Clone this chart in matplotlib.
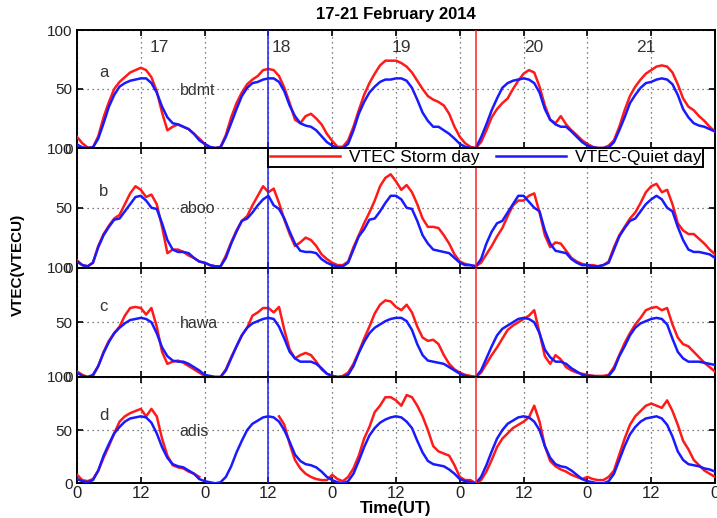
import numpy as np
import matplotlib
matplotlib.use("Agg")
import matplotlib.pyplot as plt

plt.rcParams['font.family'] = ['Liberation Sans', 'DejaVu Sans']

nan = np.nan
hours = np.arange(0, 121)

stations = ['bdmt', 'aboo', 'hawa', 'adis']
panel_letters = ['a', 'b', 'c', 'd']
day_labels = ['17', '18', '19', '20', '21']
x_ticks = [0, 12, 24, 36, 48, 60, 72, 84, 96, 108, 120]
x_tick_labels = ['0', '12', '0', '12', '0', '12', '0', '12', '0', '12', '0']
y_ticks = [0, 50, 100]
title = '17-21 February 2014'
storm_label = 'VTEC Storm day'
quiet_label = 'VTEC-Quiet day'
storm_onset_hour = 36      # blue vertical marker
main_phase_hour = 75       # red vertical marker

# ---------- bdmt (panel a) ----------
bdmt_quiet = [3, 0.5, 0, 0.5, 8, 21, 35, 45, 52, 55, 57, 58, 59, 59, 55, 47, 35, 26, 21, 20, 18, 16, 12, 6.5, 3.5,
              1, 0, 0.5, 9.5, 21, 33, 44, 51, 55, 56, 58, 59, 59, 56, 48, 36, 27, 21, 19, 18, 15, 10, 5, 2,
              0, 0, 3.5, 15, 29, 39, 47, 52, 56, 58, 58, 59, 59, 57, 51, 41, 30, 23, 18, 18, 15, 12, 8, 3.5,
              1, 0, 0, 9, 20, 32, 42, 51, 55, 57, 58, 59, 58, 55, 47, 33, 24, 20, 18, 18, 14, 9.5, 5, 2,
              0.5, 0, 0, 0.5, 5, 15, 26, 38, 45, 51, 55, 56, 58, 59, 58, 54, 45, 33, 26, 21, 19, 18, 16, 14]
bdmt_storm = [9.5, 4, 0.5, 0.5, 10, 26, 39, 50, 56, 60, 64, 66, 68, 66, 60, 48, 30, 15, 18, 20, 18, 16, 12, 8, 3.5,
              0.5, 0, 1, 11, 26, 38, 47, 54, 58, 61, 66, 67, 66, 61, 51, 38, 24, 21, 27, 29, 25, 20, 12, 6,
              1, 1, 6.5, 18, 32, 45, 55, 63, 70, 74, 74, 74, 72, 69, 64, 57, 50, 44, 41, 39, 36, 29, 18, 9.5,
              4, 1, 0, 5, 15, 26, 33, 38, 42, 50, 57, 63, 66, 64, 52, 36, 24, 21, 27, 20, 15, 11, 6.5, 3.5,
              1, 0, 0, 2, 6.5, 18, 32, 44, 52, 58, 63, 66, 69, 70, 69, 64, 54, 42, 35, 32, 27, 23, 18, 14]

# ---------- aboo (panel b) ----------
aboo_quiet = [5, 2, 1, 4, 17, 27, 34, 40, 41, 47, 53, 59, 60, 56, 50, 49, 37, 23, 15, 13, 13, 12, 8, 5, 4,
              2, 1, 1, 8, 20, 30, 39, 41, 46, 52, 57, 60, 52, 49, 41, 30, 20, 14, 13, 13, 12, 7, 4, 2,
              1, 1, 4, 15, 26, 32, 40, 41, 47, 54, 60, 60, 57, 50, 49, 39, 27, 20, 15, 14, 13, 12, 8, 4,
              2, 2, 1, 7, 20, 30, 37, 39, 46, 53, 60, 60, 55, 50, 47, 31, 20, 14, 13, 12, 7, 4, 2, 2,
              1, 1, 2, 4, 15, 26, 33, 39, 41, 47, 53, 57, 60, 57, 50, 47, 34, 23, 15, 13, 13, 12, 11, 8]
aboo_storm = [6, 2, 1, 4, 18, 28, 35, 41, 44, 53, 62, 68, 65, 59, 61, 53, 34, 12, 15, 15, 13, 10, 8, 5, 4,
              2, 1, 1, 10, 21, 31, 39, 43, 52, 60, 68, 63, 66, 54, 40, 28, 18, 21, 25, 23, 18, 11, 7, 4,
              2, 2, 5, 17, 27, 37, 46, 56, 68, 75, 78, 72, 65, 69, 63, 53, 41, 34, 34, 33, 27, 20, 11, 5,
              3, 2, 1, 4, 11, 18, 26, 33, 43, 52, 56, 56, 60, 62, 46, 27, 17, 21, 20, 14, 8, 5, 3, 2,
              2, 1, 2, 5, 17, 27, 34, 41, 46, 54, 63, 68, 70, 63, 65, 53, 37, 31, 28, 28, 24, 20, 15, 11]

# ---------- hawa (panel c) ----------
hawa_quiet = [4, 1, 0, 2, 10, 22, 32, 40, 45, 49, 52, 53, 54, 53, 50, 40, 27, 19, 15, 14, 14, 12, 9, 6, 2,
              1, 0, 0, 6, 17, 28, 38, 45, 49, 51, 53, 54, 53, 46, 35, 23, 17, 14, 14, 14, 12, 8, 3, 1,
              0, 0, 2, 10, 22, 32, 40, 45, 48, 51, 53, 54, 54, 51, 43, 30, 20, 15, 14, 13, 12, 9, 6, 3,
              1, 0, 0, 6, 17, 28, 38, 44, 47, 50, 53, 54, 53, 50, 40, 25, 18, 14, 14, 12, 8, 5, 2, 1,
              1, 0, 0, 1, 7, 19, 28, 38, 45, 49, 51, 53, 54, 53, 48, 35, 23, 17, 14, 14, 14, 13, 12, 11]
hawa_storm = [5, 2, 0, 1, 10, 23, 33, 40, 46, 56, 63, 64, 63, 57, 63, 46, 23, 12, 14, 15, 13, 10, 7, 4, 1,
              0, 0, 0, 7, 18, 28, 38, 45, 56, 59, 63, 63, 59, 64, 43, 25, 17, 20, 22, 20, 14, 7, 3, 1,
              0, 1, 4, 12, 23, 35, 46, 58, 66, 70, 69, 64, 61, 66, 59, 46, 36, 33, 34, 30, 20, 12, 7, 4,
              2, 1, 0, 4, 12, 20, 27, 35, 43, 47, 50, 53, 56, 61, 40, 19, 12, 20, 16, 9, 6, 4, 3, 2,
              1, 1, 1, 2, 9, 20, 31, 40, 48, 54, 61, 63, 64, 61, 63, 48, 36, 30, 28, 23, 18, 13, 9, 5]

# ---------- adis (panel d) ----------
adis_quiet = [4, 2, 1, 3, 12, 26, 37, 47, 53, 58, 61, 62, 63, 62, 57, 47, 34, 24, 18, 16, 15, 12, 9, 4, 2,
              1, 0, 1, 6, 16, 29, 40, 50, 56, 59, 62, 63, 62, 58, 50, 39, 27, 21, 18, 17, 15, 11, 6, 3,
              1, 0, 2, 9, 21, 34, 45, 52, 57, 60, 62, 63, 62, 58, 52, 40, 29, 21, 18, 17, 16, 13, 9, 4,
              2, 1, 0, 6, 17, 30, 42, 50, 56, 59, 62, 63, 62, 58, 50, 35, 24, 18, 16, 15, 12, 8, 4, 2,
              1, 0, 0, 2, 9, 22, 35, 46, 53, 58, 61, 62, 63, 61, 55, 44, 30, 22, 18, 17, 16, 14, 13, 11]
adis_storm = [8, 3, 2, 4, 12, 24, 35, 47, 58, 63, 66, 68, 70, 63, 70, 63, 42, 26, 17, 15, 14, 11, 9, 6,
              nan, nan, nan, nan, nan, nan, nan, nan, nan, nan, nan, nan, nan, nan,
              63, 55, 37, 22, 14, 9, 6, 4, 3, 3, 8,
              4, 2, 6, 14, 26, 42, 53, 67, 73, 81, 81, 78, 73, 83, 81, 73, 63, 50, 35, 30, 28, 26, 17, 6,
              3, 3, 0, 3, 11, 22, 34, 42, 47, 52, 55, 58, 62, 73, 58, 35, 21, 16, 13, 11, 8, 6, 4, 6,
              4, 3, 3, 6, 12, 27, 42, 55, 63, 68, 73, 75, 73, 71, 78, 68, 55, 40, 32, 22, 17, 12, 9, 6]

storm_series = [bdmt_storm, aboo_storm, hawa_storm, adis_storm]
quiet_series = [bdmt_quiet, aboo_quiet, hawa_quiet, adis_quiet]

# ---------- layout (pixel rows of each panel) ----------
W_PX, H_PX = 717, 518
left_px, right_px = 77, 715
rows = [(30, 148), (148, 267.5), (267.5, 377), (377, 483.3)]

fig = plt.figure(figsize=(W_PX / 100, H_PX / 100), dpi=100)
fig.patch.set_facecolor('white')

txt_col = '#333333'
axes = []
for i, (top, bot) in enumerate(rows):
    ax = fig.add_axes([left_px / W_PX, 1 - bot / H_PX,
                       (right_px - left_px) / W_PX, (bot - top) / H_PX])
    axes.append(ax)
    ax.set_xlim(0, 120)
    ax.set_ylim(0, 100)
    ax.set_xticks(x_ticks)
    ax.set_yticks(y_ticks)
    ax.set_yticklabels([str(v) for v in y_ticks], fontsize=11, color='#222222')
    if i == 3:
        ax.set_xticklabels(x_tick_labels, fontsize=12, color='#222222')
    else:
        ax.set_xticklabels([])
    ax.tick_params(direction='in', top=True, right=True, length=4, width=1.2, pad=3)
    ax.tick_params(axis='x', pad=2)
    ax.grid(True, linestyle=(0, (1, 3)), color='#555555', linewidth=0.9)
    ax.set_axisbelow(True)
    for sp in ax.spines.values():
        sp.set_linewidth(1.4)
        sp.set_color('black')

    ax.plot(hours, storm_series[i], color='#ff1a1a', lw=1.8, label=storm_label, zorder=3)
    ax.plot(hours, quiet_series[i], color='#1a1aff', lw=1.8, label=quiet_label, zorder=4)
    ax.axvline(storm_onset_hour, color='#2020ff', lw=1.1, zorder=5)
    ax.axvline(main_phase_hour, color='#ff2020', lw=1.1, zorder=5)

    ax.text(5, 64, panel_letters[i], fontsize=12, color=txt_col, ha='center', va='center', zorder=6)
    ax.text(19.3, 49, stations[i], fontsize=11.5, color=txt_col, ha='left', va='center', zorder=6)

# day labels in the top panel
day_pos = [15.5, 38.5, 61, 86, 107]
for d, xp in zip(day_labels, day_pos):
    axes[0].text(xp, 85, d, fontsize=12.5, color=txt_col, ha='center', va='center', zorder=6)

# legend in panel b
leg = axes[1].legend(loc='upper left', bbox_to_anchor=(storm_onset_hour / 120, 1.0),
                     ncol=2, fontsize=12.5, frameon=True, fancybox=False,
                     edgecolor='black', framealpha=1, borderaxespad=0,
                     handlelength=4.0, handletextpad=0.5, columnspacing=1.0,
                     borderpad=0.12)
leg.get_frame().set_linewidth(1.4)
leg.set_zorder(10)

cx = (left_px + right_px) / 2 / W_PX
fig.text(cx, 1 - 15 / H_PX, title, ha='center', va='center', fontsize=12, fontweight='bold')
fig.text(cx, 1 - 509 / H_PX, 'Time(UT)', ha='center', va='center', fontsize=12, fontweight='bold')
fig.text(18 / W_PX, 1 - 265 / H_PX, 'VTEC(VTECU)', ha='center', va='center', rotation=90,
         fontsize=11, fontweight='bold')

fig.savefig('out.png', dpi=100)
